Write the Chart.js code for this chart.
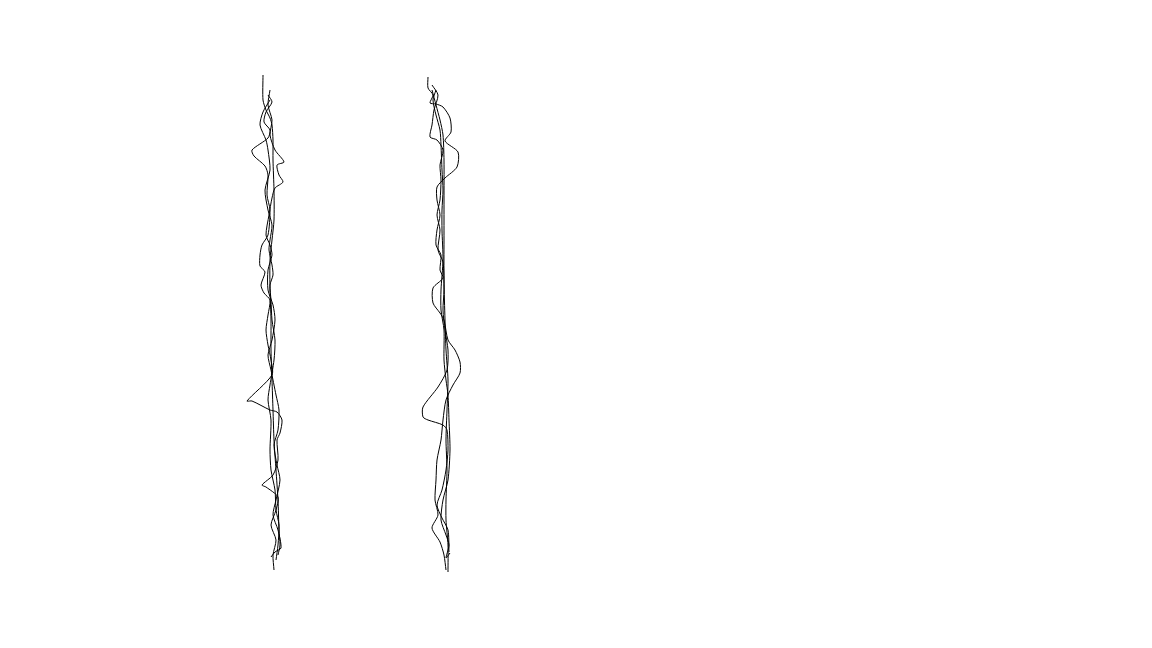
<!DOCTYPE html>
<html>
<head>
<meta charset="utf-8">
<script src="https://cdn.jsdelivr.net/npm/chart.js@4"></script>
<style>
  html, body { margin: 0; padding: 0; background: #ffffff; }
  #wrap { width: 1152px; height: 648px; position: relative; }
</style>
</head>
<body>
<div id="wrap"><canvas id="c"></canvas></div>
<script>
// Profile traces: reading (x) against depth (y, increasing downward)
const readL1 = [263,263,266,270,272,273,273,274,274,272,270,270,271,271,272,273,274,276,278,279,280,278];
const depthL1 = [75,100,110,118,125,140,160,190,220,240,260,290,320,350,380,410,440,470,500,530,545,555];

const readL2 = [268,272,266,264,270,268,252,254,265,268,267,270,268,262,260,260,265,261,264,270,268,266,268,271,272,247,252,270,277,282,280,277,278,273,262,266,278,276,271,276,273,274];
const depthL2 = [95,102,112,122,130,138,150,156,166,175,195,210,235,245,255,266,272,285,293,300,315,330,345,360,375,401,401,410,412,420,433,440,460,475,485,487,497,510,525,540,555,570];

const readL3 = [270,268,272,270,275,284,277,279,283,275,272,269,266,270,272,268,268,273,275,272,268,271,276,279,278,274,277,280,276,273,278,281,275,271];
const depthL3 = [90,105,120,135,150,162,165,175,182,188,198,215,235,245,255,270,290,305,320,340,355,370,395,410,430,445,465,480,500,515,530,548,552,557];

const readL4 = [270,263,260,266,268,270,265,268,272,270,269,272,273,270,271,272,275,274,270,268,271,270,271,275,276,279,278,276];
const depthL4 = [100,112,125,140,150,170,190,210,225,240,250,265,275,285,300,320,340,360,385,400,420,450,470,490,510,525,545,560];

const readR1 = [432,436,440,443,444,444,444,444,445,446,448,447,446,447,446,446,448,448];
const depthR1 = [90,105,120,135,160,200,240,280,320,350,380,410,440,470,500,520,545,572];

const readR2 = [428,428,433,430,436,443,450,451,445,458,457,445,437,437,440,437,436,441,440,443,433,433,440,444,448,455,460,460,453,446,443,441,437,436,435,438,432,440,444,446];
const depthR2 = [77,88,95,103,104,107,118,132,141,152,167,178,187,200,215,230,245,255,270,278,288,303,313,320,340,350,362,373,385,400,420,440,460,480,500,515,528,542,555,570];

const readR3 = [432,438,434,432,430,437,443,440,441,440,437,440,438,443,444,443,445,448,447,438,423,423,428,443,447,448,446,442,437,442,448,449];
const depthR3 = [85,95,110,125,137,140,150,165,180,200,215,230,250,262,290,310,330,350,370,387,407,417,420,425,430,450,470,490,505,518,530,552];

const readR4 = [436,433,436,440,441,442,443,442,442,443,441,441,444,444,446,448,449,450,448,443,441,446,449,446,450];
const depthR4 = [90,100,115,130,145,170,190,210,230,260,290,310,330,360,380,395,420,450,480,500,520,535,545,558,553];

const traces = [
  [readL1, depthL1], [readL2, depthL2], [readL3, depthL3], [readL4, depthL4],
  [readR1, depthR1], [readR2, depthR2], [readR3, depthR3], [readR4, depthR4]
];

const datasets = traces.map(([xs, ys]) => ({
  data: xs.map((x, i) => ({ x: x, y: ys[i] })),
  showLine: true,
  borderColor: '#000000',
  borderWidth: 1,
  pointRadius: 0,
  pointHoverRadius: 0,
  tension: 0.25,
  fill: false
}));

new Chart(document.getElementById('c'), {
  type: 'scatter',
  data: { datasets: datasets },
  options: {
    responsive: true,
    maintainAspectRatio: false,
    animation: false,
    layout: { padding: 0 },
    plugins: { legend: { display: false }, tooltip: { enabled: false } },
    scales: {
      x: { type: 'linear', min: 0, max: 1152, display: false },
      y: { type: 'linear', min: 0, max: 648, reverse: true, display: false }
    }
  }
});
</script>
</body>
</html>
